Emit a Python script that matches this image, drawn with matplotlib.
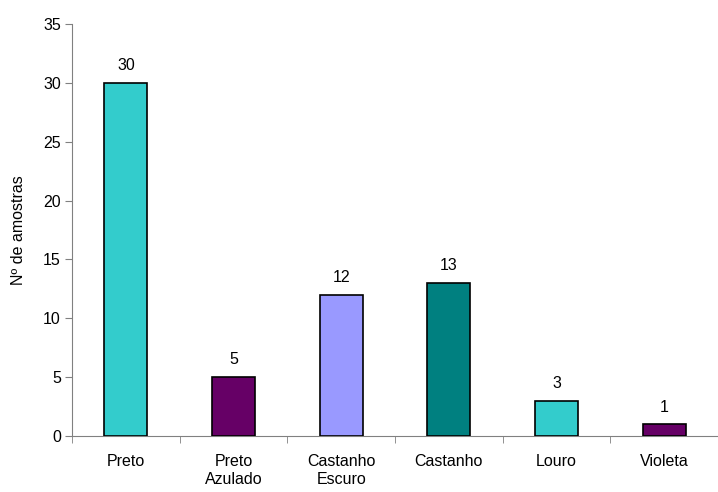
import matplotlib
matplotlib.use("Agg")
import matplotlib.pyplot as plt

# hair colour categories and sample counts
categorias = ["Preto", "Preto\nAzulado", "Castanho\nEscuro", "Castanho", "Louro", "Violeta"]
amostras = [30, 5, 12, 13, 3, 1]
cores = ["#33CCCC", "#660066", "#9999FF", "#008080", "#33CCCC", "#660066"]

plt.rcParams["font.family"] = ["Liberation Sans", "DejaVu Sans"]

fig = plt.figure(figsize=(7.18, 4.92), dpi=100)
ax = fig.add_axes([72 / 718, 56 / 492, 1 - 72 / 718, 412 / 492])

x = list(range(len(categorias)))
ax.bar(x, amostras, width=0.4, color=cores, edgecolor="black", linewidth=1.2, zorder=3)

for xi, v in zip(x, amostras):
    ax.annotate(str(v), (xi, v), xytext=(0, 7), textcoords="offset points",
                ha="center", va="bottom", fontsize=11.5)

ax.set_ylim(0, 35)
ax.set_yticks(range(0, 36, 5))
ax.set_xlim(-0.5, 5.42)
ax.set_xticks(x)
ax.set_xticklabels(categorias, fontsize=11.5, va="top", linespacing=1.25)
ax.set_xticks([i + 0.5 for i in range(-1, 6)], minor=True)
ax.tick_params(axis="x", which="major", length=0, pad=13)
ax.tick_params(axis="x", which="minor", length=5, color="#808080", direction="out")
ax.tick_params(axis="y", length=5, color="#808080", labelsize=11.5, pad=3)

ax.set_ylabel("Nº de amostras", fontsize=11.5, labelpad=12)

for s in ["top", "right"]:
    ax.spines[s].set_visible(False)
for s in ["left", "bottom"]:
    ax.spines[s].set_color("#808080")

plt.savefig("out.png", dpi=100)
